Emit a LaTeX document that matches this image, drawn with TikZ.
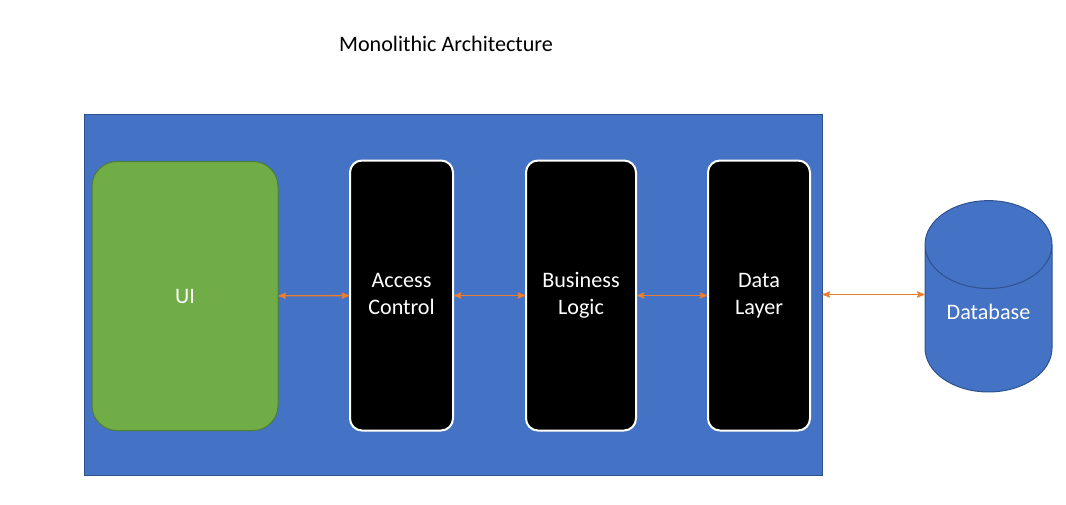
\documentclass[tikz,border=0pt]{standalone}
\usepackage{fontspec}
\setmainfont{Carlito}
\usetikzlibrary{arrows,shapes.geometric}

\definecolor{boxblue}{HTML}{4472C4}
\definecolor{edgeblue}{HTML}{2F528F}
\definecolor{uigreen}{HTML}{70AD47}
\definecolor{edgegreen}{HTML}{507E32}
\definecolor{linkorange}{HTML}{ED7D31}

\begin{document}
\begin{tikzpicture}[x=0.75pt,y=-0.75pt,font=\fontsize{16.6}{20.5}\selectfont,
    layer/.style={rectangle,rounded corners=9pt,fill=black,draw=white,line width=1.5pt,
      text=white,align=center,minimum height=202.5pt,inner sep=0pt},
    link/.style={<->,>=stealth',draw=linkorange,line width=1pt}]
  \useasboundingbox (0,0) rectangle (1066,504);

  \node (title) at (446,44) {Monolithic Architecture};

  \node[rectangle,fill=boxblue,draw=edgeblue,line width=0.75pt,
    minimum width=553.5pt,minimum height=270.75pt] (app) at (453,294.5) {};

  \node[rectangle,rounded corners=18.75pt,fill=uigreen,draw=edgegreen,line width=0.75pt,
    text=white,minimum width=139.5pt,minimum height=201.75pt] (ui) at (185,296) {UI};
  \node[layer,minimum width=77.25pt] (ac) at (401.5,295.5) {Access\strut\\Control\strut};
  \node[layer,minimum width=82.5pt]  (bl) at (581,295.5)   {Business\strut\\Logic\strut};
  \node[layer,minimum width=76.5pt]  (dl) at (759,295.5)   {Data\strut\\Layer\strut};

  \node[cylinder,shape border rotate=90,aspect=1.05,fill=boxblue,draw=edgeblue,
    line width=0.75pt,text=white,text depth=9.75pt,minimum width=95.25pt,
    minimum height=143.5pt,inner sep=0pt] (db) at (988.5,318.5) {Database};

  \path (ui) edge[link] (ac)
        (ac) edge[link] (bl)
        (bl) edge[link] (dl)
        (app) edge[link] (app.east -| db.west);
\end{tikzpicture}
\end{document}
